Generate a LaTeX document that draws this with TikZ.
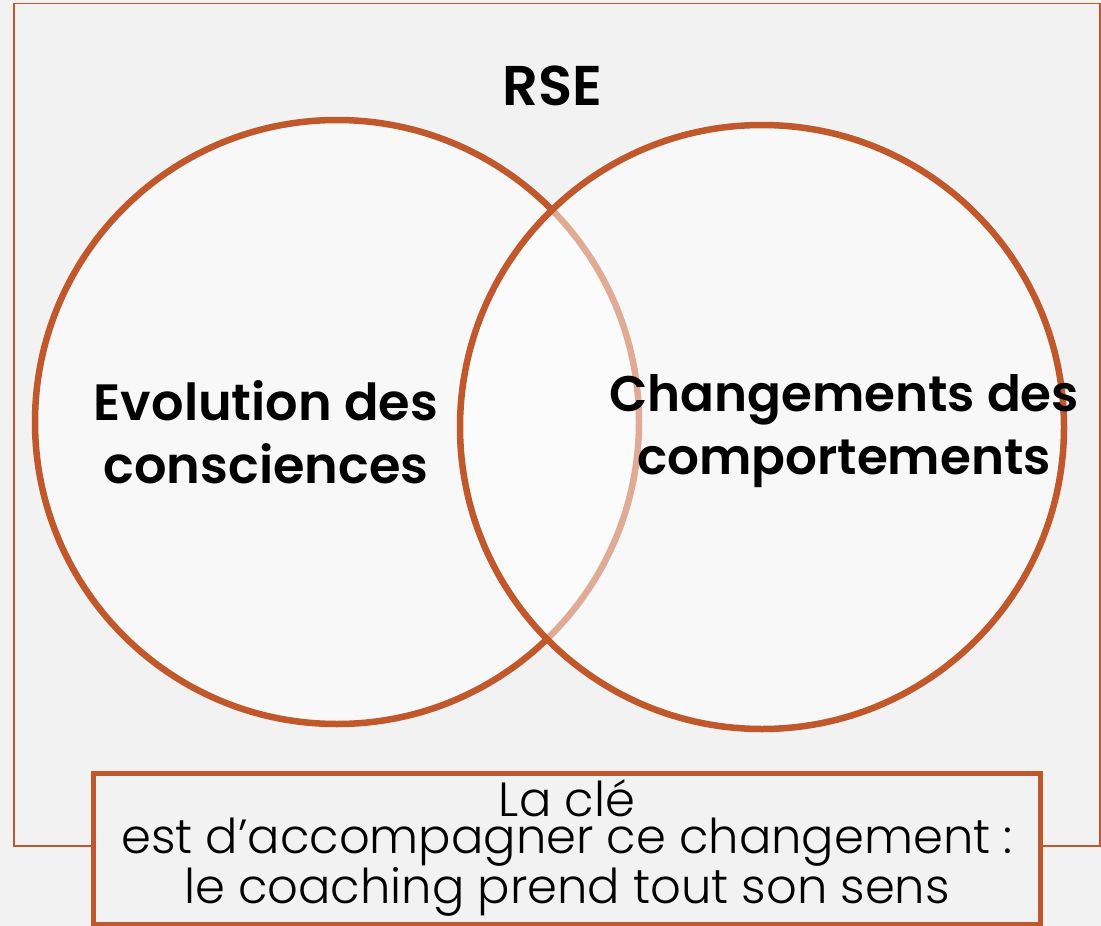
\documentclass[tikz,border=0pt]{standalone}
\usepackage{fontspec}
\setmainfont{Poppins}
\newfontfamily\boldfont{Poppins SemiBold}
\newfontfamily\lightfont{Poppins Light}
\definecolor{rust}{RGB}{192,88,44}
\definecolor{bg}{RGB}{242,242,242}
\begin{document}
\begin{tikzpicture}[x=1pt,y=-1pt,
  venn/.style={circle, draw=rust, line width=6.5pt, fill=white, fill opacity=0.5, draw opacity=1, minimum size=604pt, inner sep=0pt, outer sep=0pt},
  bigtitle/.style={font=\boldfont\fontsize{50}{63}\selectfont, align=center, inner sep=0pt},
  keybox/.style={draw=rust, line width=5pt, fill=bg, minimum width=947pt, minimum height=151pt, inner sep=0pt},
  keytext/.style={font=\lightfont\fontsize{48}{35}\selectfont, align=center, inner sep=0pt}]
\fill[bg] (0,0) rectangle (1101,926);
\useasboundingbox (0,0) rectangle (1101,926);
\draw[rust, line width=1.8pt] (14,3.5) rectangle (1100,846);
\node[venn] (L) at (337,422) {};
\node[venn] (R) at (762,427) {};
\node[bigtitle, font=\boldfont\fontsize{56}{63}\selectfont] (rse) at (552,86) {RSE};
\node[bigtitle, font=\boldfont\fontsize{51}{63}\selectfont] (evo) at (266,432) {Evolution des\\consciences};
\node[bigtitle] (chg) at (844,431) {Changements des\\comportements};
\node[keybox] (box) at (566.5,848.5) {};
\node[keytext] (key) at (567,848) {La clé\\est d’accompagner ce changement :\\le coaching prend tout son sens};
\end{tikzpicture}
\end{document}
